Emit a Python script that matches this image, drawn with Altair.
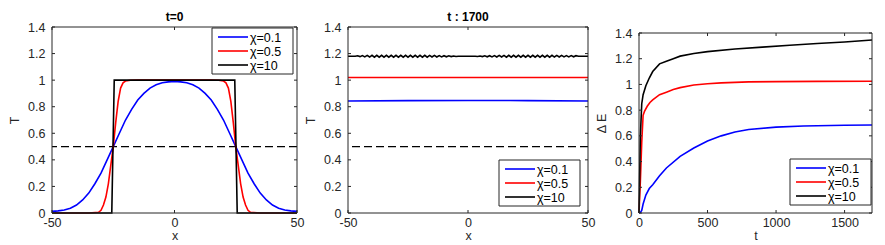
import altair as alt
import pandas as pd

FONT = "Liberation Sans"
FRAME = "#262626"

series_names = ["χ=0.1", "χ=0.5", "χ=10"]
series_colors = ["#0000ff", "#ff0000", "#000000"]

# ---------- panel 1 : t=0 ----------
x0_blue = [-50, -47.5, -45, -42.5, -40, -37.5, -35, -32.5, -30, -27.5, -25, -22.5, -20, -17.5, -15, -12.5,
           -10, -7.5, -5, -2.5, 0, 2.5, 5, 7.5, 10, 12.5, 15, 17.5, 20, 22.5, 25, 27.5, 30, 32.5, 35, 37.5,
           40, 42.5, 45, 47.5, 50]
T0_blue = [0.012, 0.016, 0.022, 0.036, 0.06, 0.098, 0.15, 0.22, 0.30, 0.40, 0.50, 0.60, 0.70, 0.78, 0.85, 0.90,
           0.94, 0.965, 0.98, 0.987, 0.99, 0.987, 0.98, 0.965, 0.94, 0.90, 0.85, 0.78, 0.70, 0.60, 0.50, 0.40,
           0.30, 0.22, 0.15, 0.098, 0.06, 0.036, 0.022, 0.016, 0.012]
x0_red = [-50, -35, -31, -30, -29, -28, -27, -26, -25, -24, -23, -22, -21, -20, -18, -15, 0,
          15, 18, 20, 21, 22, 23, 24, 25, 26, 27, 28, 29, 30, 31, 35, 50]
T0_red = [0, 0, 0.005, 0.02, 0.06, 0.12, 0.22, 0.36, 0.5, 0.68, 0.84, 0.94, 0.98, 0.993, 0.999, 1.0, 1.0,
          1.0, 0.999, 0.993, 0.98, 0.94, 0.84, 0.68, 0.5, 0.36, 0.22, 0.12, 0.06, 0.02, 0.005, 0, 0]
x0_black = [-50, -25.6, -24.6, 24.6, 25.6, 50]
T0_black = [0, 0, 1, 1, 0, 0]

# ---------- panel 2 : t=1700 ----------
x1_blue = [-50, -25, 0, 25, 50]
T1_blue = [0.843, 0.846, 0.847, 0.846, 0.843]
x1_red = [-50, 0, 50]
T1_red = [1.02, 1.02, 1.02]
x1_black = list(range(-50, 51))
T1_black = [1.18, 1.18, 1.18, 1.18,
            1.183, 1.177, 1.185, 1.175, 1.186, 1.174, 1.187, 1.173, 1.187, 1.173,
            1.187, 1.173, 1.187, 1.173, 1.187, 1.173, 1.187, 1.173, 1.187, 1.173,
            1.187, 1.173, 1.187, 1.173, 1.187, 1.173, 1.187, 1.173, 1.187, 1.173,
            1.186, 1.174, 1.186, 1.174, 1.185, 1.175, 1.184, 1.176, 1.183, 1.177,
            1.182, 1.178,
            1.18, 1.18, 1.18, 1.18, 1.18, 1.18, 1.18, 1.18,
            1.178, 1.182, 1.177, 1.183, 1.176, 1.184, 1.175, 1.185, 1.174, 1.186,
            1.174, 1.186, 1.173, 1.187, 1.173, 1.187, 1.173, 1.187, 1.173, 1.187,
            1.173, 1.187, 1.173, 1.187, 1.173, 1.187, 1.173, 1.187, 1.173, 1.187,
            1.173, 1.187, 1.174, 1.186, 1.174, 1.186, 1.175, 1.185, 1.175, 1.185,
            1.176, 1.184,
            1.18, 1.18, 1.18, 1.18, 1.18]

threshold = [0.5]

# ---------- panel 3 : Delta E vs t ----------
t_blue = [0, 10, 20, 30, 50, 75, 100, 150, 200, 300, 400, 500, 600, 700, 800, 1000, 1200, 1500, 1700]
E_blue = [0, 0.005, 0.02, 0.07, 0.14, 0.19, 0.22, 0.29, 0.35, 0.44, 0.505, 0.56, 0.6, 0.63, 0.65, 0.668,
          0.677, 0.683, 0.685]
t_red = [0, 10, 20, 30, 40, 60, 80, 100, 150, 200, 250, 300, 400, 500, 600, 800, 1000, 1300, 1700]
E_red = [0, 0.25, 0.55, 0.76, 0.79, 0.83, 0.86, 0.88, 0.92, 0.94, 0.96, 0.975, 0.995, 1.005, 1.012, 1.02,
         1.022, 1.024, 1.025]
t_black = [0, 5, 10, 20, 30, 50, 75, 100, 150, 200, 250, 300, 400, 500, 700, 900, 1100, 1300, 1500, 1700]
E_black = [0, 0.3, 0.6, 0.85, 0.92, 0.99, 1.05, 1.1, 1.16, 1.18, 1.2, 1.22, 1.24, 1.255, 1.275, 1.29, 1.305,
           1.318, 1.33, 1.345]

xticks_T = [-50, 0, 50]
yticks = [0, 0.2, 0.4, 0.6, 0.8, 1, 1.2, 1.4]
xticks_t = [0, 500, 1000, 1500]
panel_titles = ["t=0", "t : 1700"]


def make_df(xs, ys):
    rows = []
    for name, xv, yv in zip(series_names, xs, ys):
        for a, b in zip(xv, yv):
            rows.append({"x": a, "y": b, "series": name})
    return pd.DataFrame(rows)


def panel(df, W, H, xdom, xt, xtitle, ytitle, title, legx, legy, top=0, dashed=True):
    xscale = alt.Scale(domain=xdom, nice=False, zero=False)
    yscale = alt.Scale(domain=[0, 1.4], nice=False, zero=False, range=[H, top])
    lab = dict(labelFont=FONT, labelFontSize=12.5, labelColor=FRAME, titleFont=FONT, titleFontSize=12.5,
               titleColor=FRAME, titleFontWeight="normal", ticks=False, domain=False, grid=False,
               labelExpr="'' + datum.value", labelOverlap=False)
    xaxis = alt.Axis(title=xtitle, values=xt, labelPadding=3, titlePadding=1, labelFlush=False, **lab)
    yaxis = alt.Axis(title=ytitle, values=yticks, labelPadding=7, titlePadding=6, **lab)
    X = alt.X("x:Q", scale=xscale, axis=xaxis)
    Y = alt.Y("y:Q", scale=yscale, axis=yaxis)
    lines = alt.Chart(df).mark_line(strokeWidth=1.6).encode(
        x=X, y=Y,
        color=alt.Color("series:N", scale=alt.Scale(domain=series_names, range=series_colors), legend=None),
    )
    layers = []
    if dashed:
        layers.append(alt.Chart(pd.DataFrame({"y": threshold})).mark_rule(
            color="black", strokeWidth=1.3, strokeDash=[8, 4]).encode(y=Y))
    layers.append(lines)
    xt_df = pd.DataFrame({"x": xt})
    yt_df = pd.DataFrame({"y": yticks})
    one = pd.DataFrame({"a": [0]})
    tk = dict(color=FRAME, strokeWidth=1)
    layers += [
        alt.Chart(xt_df).mark_rule(**tk).encode(x=X, y=alt.value(H), y2=alt.value(H - 3)),
        alt.Chart(xt_df).mark_rule(**tk).encode(x=X, y=alt.value(top), y2=alt.value(top + 3)),
        alt.Chart(yt_df).mark_rule(**tk).encode(y=Y, x=alt.value(0), x2=alt.value(3)),
        alt.Chart(yt_df).mark_rule(**tk).encode(y=Y, x=alt.value(W - 3), x2=alt.value(W)),
        alt.Chart(one).mark_rule(**tk).encode(x=alt.value(0), x2=alt.value(W), y=alt.value(top)),
        alt.Chart(one).mark_rule(**tk).encode(x=alt.value(0), x2=alt.value(W), y=alt.value(H)),
        alt.Chart(one).mark_rule(**tk).encode(x=alt.value(0), y=alt.value(top), y2=alt.value(H)),
        alt.Chart(one).mark_rule(**tk).encode(x=alt.value(W), y=alt.value(top), y2=alt.value(H)),
    ]
    # legend box
    bw, bh = 81, 46
    layers.append(alt.Chart(one).mark_rect(fill="white", stroke=FRAME, strokeWidth=1).encode(
        x=alt.value(legx), x2=alt.value(legx + bw), y=alt.value(legy), y2=alt.value(legy + bh)))
    for i, (name, col) in enumerate(zip(series_names, series_colors)):
        yy = legy + 9 + 14 * i
        layers.append(alt.Chart(one).mark_rule(color=col, strokeWidth=1.6).encode(
            x=alt.value(legx + 6), x2=alt.value(legx + 36), y=alt.value(yy)))
        layers.append(alt.Chart(pd.DataFrame({"s": [name]})).mark_text(
            font=FONT, fontSize=12.5, align="left", baseline="middle", color="black").encode(
            text="s:N", x=alt.value(legx + 38), y=alt.value(yy + 0.5)))
    if title:
        layers.append(alt.Chart(pd.DataFrame({"s": [title]})).mark_text(
            font=FONT, fontSize=12, fontWeight="bold", align="center", baseline="middle", color="black").encode(
            text="s:N", x=alt.value(W / 2), y=alt.value(-10)))
    return alt.layer(*layers).properties(width=W, height=H)


df1 = make_df([x0_blue, x0_red, x0_black], [T0_blue, T0_red, T0_black])
df2 = make_df([x1_blue, x1_red, x1_black], [T1_blue, T1_red, T1_black])
df3 = make_df([t_blue, t_red, t_black], [E_blue, E_red, E_black])

H = 186
p1 = panel(df1, 245, H, [-50, 50], xticks_T, "x", "T", panel_titles[0], 160, 1)
p2 = panel(df2, 240, H, [-50, 50], xticks_T, "x", "T", panel_titles[1], 151, 133)
p3 = panel(df3, 233, H, [0, 1700], xticks_t, "t", "Δ E", None, 151, 132, top=6, dashed=False)

chart = alt.hconcat(p1, p2, p3, spacing=51, bounds="flush",
                    padding={"left": 0, "top": 3, "right": 0, "bottom": 0}).resolve_scale(
    color="independent").configure_view(stroke=None)

chart.save("out.html", embed_options={"renderer": "svg", "actions": False})
